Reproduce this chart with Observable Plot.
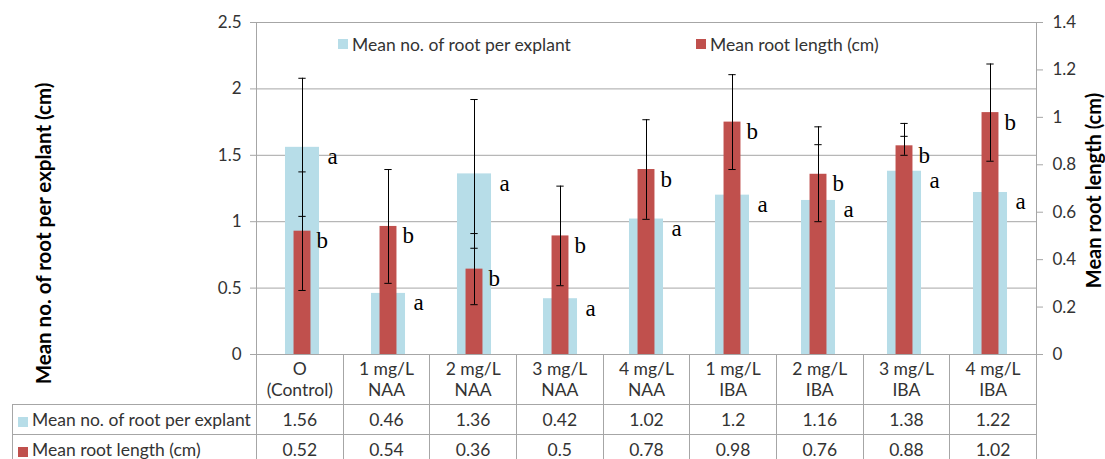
<!DOCTYPE html>
<html>
<head>
<meta charset="utf-8">
<script src="https://cdn.jsdelivr.net/npm/d3@7"></script>
<script src="https://cdn.jsdelivr.net/npm/@observablehq/plot@0.6"></script>
<style>
  html, body { margin: 0; padding: 0; background: #fff; }
  #wrap { position: relative; width: 1105px; height: 459px; overflow: hidden; font-family: Lato, sans-serif; color: #333; }
  #chart { position: absolute; left: 0; top: 0; }
  .leg { position: absolute; top: 35px; height: 18px; display: flex; align-items: center; font-size: 17.5px; white-space: nowrap; color: #333; }
  .sw { display: inline-block; width: 10px; height: 10px; margin-right: 4px; flex: none; }
  #tbl { position: absolute; left: 12px; top: 354px; border-collapse: collapse; table-layout: fixed; font-size: 17.5px; color: #333; }
  #tbl td { border: 1px solid #a6a6a6; text-align: center; padding: 0; white-space: nowrap; }
  #tbl tr.hdr td { height: 50px; line-height: 21px; border-top: none; }
  #tbl tr.hdr td.blank { border: none; }
  #tbl tr.row td { height: 29px; }
  #tbl td.lab { text-align: left; padding-left: 5px; }
  #tbl td.lab .sw { vertical-align: -1px; }
</style>
</head>
<body>
<div id="wrap">
  <div id="chart"></div>
</div>
<script>
// ---------- data ----------
const categories = ["O\n(Control)", "1 mg/L\nNAA", "2 mg/L\nNAA", "3 mg/L\nNAA", "4 mg/L\nNAA", "1 mg/L\nIBA", "2 mg/L\nIBA", "3 mg/L\nIBA", "4 mg/L\nIBA"];
const rootNumber    = [1.56, 0.46, 1.36, 0.42, 1.02, 1.2, 1.16, 1.38, 1.22];
const rootNumberErr = [0.52, 0.35, 0.56, 0.30, 0.25, 0.30, 0.42, 0.36, 0.30];
const rootLength    = [0.52, 0.54, 0.36, 0.5, 0.78, 0.98, 0.76, 0.88, 1.02];
const rootLengthErr = [0.25, 0.24, 0.15, 0.21, 0.21, 0.20, 0.20, 0.04, 0.205];
const rootNumberLetters = ["a", "a", "a", "a", "a", "a", "a", "a", "a"];
const rootLengthLetters = ["b", "b", "b", "b", "b", "b", "b", "b", "b"];
const seriesNames = ["Mean no. of root per explant", "Mean root length (cm)"];
const axisTitles = ["Mean no. of root per explant (cm)", "Mean root length (cm)"];
const leftTicks = [0, 0.5, 1, 1.5, 2, 2.5];
const rightTicks = [0, 0.2, 0.4, 0.6, 0.8, 1, 1.2, 1.4];

// ---------- styles ----------
const BLUE = "#b7dde8", RED = "#c0504d", GRID = "#a6a6a6", TEXT = "#333";
const leftMax = leftTicks[leftTicks.length - 1];
const rightMax = rightTicks[rightTicks.length - 1];
const k = leftMax / rightMax; // right-axis value -> left-axis units

const blue = categories.map((c, i) => ({
  c, v: rootNumber[i], lo: rootNumber[i] - rootNumberErr[i], hi: rootNumber[i] + rootNumberErr[i], letter: rootNumberLetters[i]
}));
const red = categories.map((c, i) => ({
  c, v: rootLength[i] * k, lo: (rootLength[i] - rootLengthErr[i]) * k, hi: (rootLength[i] + rootLengthErr[i]) * k, letter: rootLengthLetters[i]
}));

const W = 1105, H = 459;
const mL = 256, mR = 69, mT = 22, mB = 105;
const step = (W - mL - mR) / categories.length;
const blueInset = (step - 34.7) / 2;
const redInset = (step - 17.6) / 2;
const capInset = (step - 8) / 2;

const errMarks = (rows) => [
  Plot.ruleX(rows, {x: "c", y1: "lo", y2: "hi", stroke: "#000", strokeWidth: 1}),
  Plot.tickY(rows, {x: "c", y: "lo", stroke: "#000", insetLeft: capInset, insetRight: capInset}),
  Plot.tickY(rows, {x: "c", y: "hi", stroke: "#000", insetLeft: capInset, insetRight: capInset})
];

const chart = Plot.plot({
  width: W, height: H,
  marginLeft: mL, marginRight: mR, marginTop: mT, marginBottom: mB,
  style: {fontFamily: "Lato, sans-serif", fontSize: "17px", color: TEXT, background: "transparent"},
  x: {domain: categories, padding: 0, axis: null},
  y: {domain: [0, leftMax]},
  marks: [
    Plot.gridY(leftTicks, {stroke: GRID, strokeOpacity: 1}),
    Plot.frame({stroke: GRID}),
    Plot.axisY(leftTicks, {anchor: "left", label: null, tickSize: 6, tickPadding: 9, stroke: GRID, fill: TEXT, fontSize: 17, tickFormat: d => String(d)}),
    Plot.axisY(rightTicks.map(v => v * k), {anchor: "right", label: null, tickSize: 6, tickPadding: 10, stroke: GRID, fill: TEXT, fontSize: 17, tickFormat: d => String(+(d / k).toFixed(1))}),
    Plot.barY(blue, {x: "c", y: "v", fill: BLUE, insetLeft: blueInset, insetRight: blueInset}),
    ...errMarks(blue),
    Plot.barY(red, {x: "c", y: "v", fill: RED, insetLeft: redInset, insetRight: redInset}),
    ...errMarks(red),
    Plot.text(blue, {x: "c", y: "v", text: "letter", textAnchor: "start", lineAnchor: "bottom", dx: 25, dy: 17, fontFamily: "Liberation Serif, serif", fontSize: 23, fill: "#000"}),
    Plot.text(red, {x: "c", y: "v", text: "letter", textAnchor: "start", lineAnchor: "bottom", dx: 14, dy: 17, fontFamily: "Liberation Serif, serif", fontSize: 23, fill: "#000"}),
    Plot.text([axisTitles[0]], {text: d => d, frameAnchor: "left", textAnchor: "middle", lineAnchor: "middle", rotate: -90, dx: -212, dy: 45, fontWeight: "bold", fontSize: 20.5, fill: "#000"}),
    Plot.text([axisTitles[1]], {text: d => d, frameAnchor: "right", textAnchor: "middle", lineAnchor: "middle", rotate: -90, dx: 58, dy: 2, fontWeight: "bold", fontSize: 20, fill: "#000"})
  ]
});
document.getElementById("chart").appendChild(chart);

// ---------- legend (inside plot area, top) ----------
const wrap = document.getElementById("wrap");
[[seriesNames[0], BLUE, 338], [seriesNames[1], RED, 696]].forEach(([name, col, left]) => {
  const d = document.createElement("div");
  d.className = "leg";
  d.style.left = left + "px";
  d.innerHTML = `<span class="sw" style="background:${col}"></span><span>${name}</span>`;
  wrap.appendChild(d);
});

// ---------- data table below ----------
const tbl = document.createElement("table");
tbl.id = "tbl";
let html = `<colgroup><col style="width:244px">${categories.map(() => `<col style="width:${step}px">`).join("")}</colgroup>`;
html += `<tr class="hdr"><td class="blank"></td>${categories.map(c => `<td>${c.replace("\n", "<br>")}</td>`).join("")}</tr>`;
html += `<tr class="row"><td class="lab"><span class="sw" style="background:${BLUE}"></span>${seriesNames[0]}</td>${rootNumber.map(v => `<td>${v}</td>`).join("")}</tr>`;
html += `<tr class="row"><td class="lab"><span class="sw" style="background:${RED}"></span>${seriesNames[1]}</td>${rootLength.map(v => `<td>${v}</td>`).join("")}</tr>`;
tbl.innerHTML = html;
wrap.appendChild(tbl);
</script>
</body>
</html>
